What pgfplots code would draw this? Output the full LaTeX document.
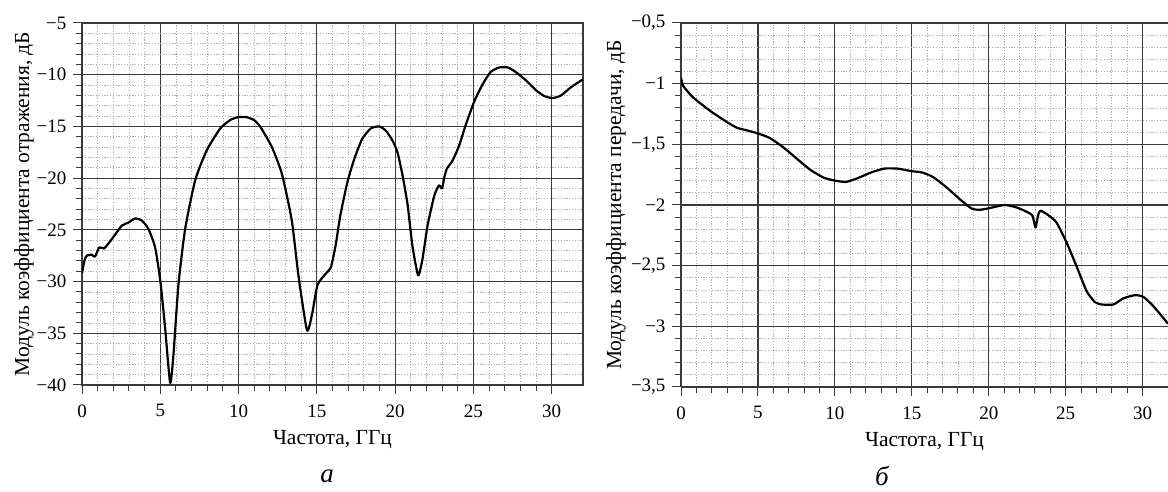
\documentclass[border=0pt]{standalone}
\usepackage{pgfplots}
\pgfplotsset{compat=1.18}
\usepackage{fontspec}
\setmainfont{Liberation Serif}
\definecolor{majgrid}{HTML}{3A3A3A}
\definecolor{mingrid}{HTML}{B0B0B0}
\pgfplotsset{
  myaxis/.style={
    scale only axis,
    /pgf/number format/assume math mode=true,
    tick align=outside,
    major tick length=9pt,
    minor tick length=6pt,
    minor x tick num=4,
    minor y tick num=4,
    grid=both,
    major grid style={majgrid, line width=1.2pt},
    minor grid style={mingrid, line width=0.8pt, dash pattern=on 1.2pt off 1.6pt},
    axis line style={majgrid, line width=1.3pt},
    every tick/.style={majgrid, line width=1pt},
    xtick pos=bottom,
    ytick pos=left,
    tick label style={font=\fontsize{19}{22}\selectfont},
    xticklabel style={yshift=-7pt},
    yticklabel style={xshift=-3pt},
    label style={font=\fontsize{21.5}{24}\selectfont},
    xtick={0,5,10,15,20,25,30},
    xticklabels={0,5,10,15,20,25,30},
    xlabel={Частота, ГГц},
    xlabel style={at={(axis description cs:0.5,0)}, anchor=center, yshift=-55pt},
  },
}
\begin{document}
\begin{tikzpicture}[x=1pt,y=1pt]
\useasboundingbox (0,0) rectangle (1168,492);
\begin{axis}[myaxis,
  at={(82pt,107pt)}, anchor=south west,
  width=501pt, height=362pt,
  xmin=0, xmax=32, ymin=-40, ymax=-5,
  ytick={-40,-35,-30,-25,-20,-15,-10,-5},
  yticklabels={−40,−35,−30,−25,−20,−15,−10,−5},
  ylabel={Модуль коэффициента отражения, дБ},
  ylabel style={at={(axis description cs:0,0.5)}, anchor=center, rotate=0, yshift=58pt},
]
\addplot[black, line width=2.2pt, line join=round, smooth, tension=0.35] coordinates {
(0,-29.2) (0.15,-28.0) (0.3,-27.5) (0.62,-27.4) (0.83,-27.6) (1.1,-26.7)
(1.4,-26.8) (1.7,-26.3) (2.0,-25.7) (2.54,-24.6) (2.96,-24.3) (3.39,-23.9)
(3.82,-24.1) (4.24,-24.9) (4.67,-26.7) (5.0,-29.9) (5.31,-34.5) (5.63,-39.8)
(5.84,-37.1) (6.16,-30.3) (6.59,-24.9) (7.23,-20.2) (7.97,-17.3) (8.83,-15.2)
(9.5,-14.35) (10.0,-14.1) (10.5,-14.1) (11.0,-14.4) (11.4,-15.06) (12.13,-17.0)
(12.77,-19.6) (13.4,-24.1) (13.84,-29.6) (14.37,-34.7) (14.69,-33.2) (15.05,-30.3)
(15.65,-29.1) (15.9,-28.6) (16.2,-26.5) (16.5,-23.6) (16.95,-20.4) (17.4,-18.1)
(17.9,-16.2) (18.44,-15.2) (18.98,-15.0) (19.4,-15.4) (19.83,-16.35) (20.15,-17.5)
(20.47,-19.7) (20.8,-22.6) (21.1,-26.5) (21.47,-29.4) (21.75,-27.8) (22.07,-24.6)
(22.5,-21.7) (22.8,-20.7) (23.0,-21.0) (23.13,-20.0) (23.3,-19.1) (23.67,-18.3)
(24.1,-16.8) (24.5,-14.9) (25.05,-12.6) (25.6,-10.9) (26.1,-9.74) (26.65,-9.3)
(27.2,-9.3) (27.7,-9.74) (28.36,-10.55) (29.0,-11.5) (29.53,-12.06) (30.06,-12.26)
(30.6,-12.0) (31.24,-11.2) (32.0,-10.45)
};
\end{axis}
\begin{axis}[myaxis,
  at={(681pt,105pt)}, anchor=south west,
  width=487pt, height=364pt,
  axis x line*=box, axis y line*=left,
  xmin=0, xmax=31.65, ymin=-3.5, ymax=-0.5,
  ytick={-3.5,-3,-2.5,-2,-1.5,-1,-0.5},
  yticklabels={{−3,5},{−3},{−2,5},{−2},{−1,5},{−1},{−0,5}},
  ylabel={Модуль коэффициента передачи, дБ},
  ylabel style={at={(axis description cs:0,0.5)}, anchor=center, yshift=65pt},
]
\addplot[black, line width=2.2pt, line join=round, smooth, tension=0.35] coordinates {
(0,-0.95) (0.15,-1.02) (0.8,-1.115) (1.9,-1.225) (2.98,-1.316) (3.63,-1.363)
(4.28,-1.385) (5.0,-1.41) (5.8,-1.45) (6.67,-1.527) (7.54,-1.62) (8.4,-1.71)
(9.28,-1.775) (9.93,-1.797) (10.7,-1.81) (11.46,-1.78) (12.33,-1.733) (13.2,-1.70)
(14.07,-1.70) (14.93,-1.72) (15.7,-1.733) (16.38,-1.77) (17.25,-1.854) (18.1,-1.95)
(18.87,-2.028) (19.4,-2.04) (20.07,-2.025) (21.04,-2.0) (21.8,-2.02) (22.45,-2.055)
(22.84,-2.088) (23.04,-2.185) (23.2,-2.088) (23.36,-2.047) (23.86,-2.083) (24.4,-2.144)
(25.06,-2.31) (25.7,-2.503) (26.36,-2.71) (26.9,-2.80) (27.33,-2.82) (28.1,-2.82)
(28.74,-2.77) (29.5,-2.743) (30.04,-2.757) (30.7,-2.834) (31.65,-2.978)
};
\end{axis}
\node[font=\fontsize{27}{30}\selectfont\itshape] at (327,16) {а};
\node[font=\fontsize{27}{30}\selectfont\itshape] at (882,16) {б};
\end{tikzpicture}
\end{document}
